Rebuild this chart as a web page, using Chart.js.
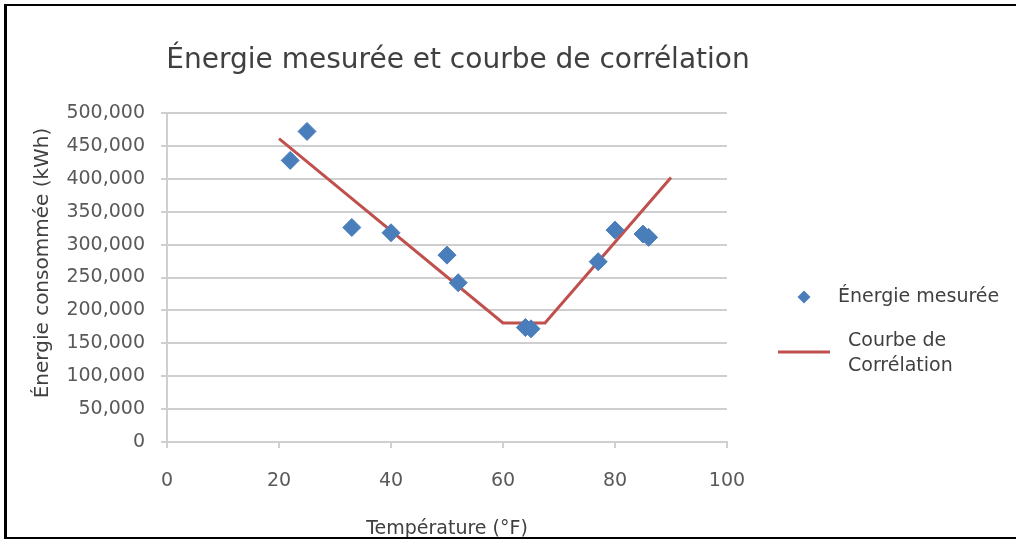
<!DOCTYPE html>
<html>
<head>
<meta charset="utf-8">
<script src="https://cdn.jsdelivr.net/npm/chart.js@4/dist/chart.umd.min.js"></script>
<style>
  html, body { margin: 0; padding: 0; background: #fff; overflow: hidden; }
  #c { display: block; }
</style>
</head>
<body>
<canvas id="c" width="1016" height="540"></canvas>
<script>
// ---- data ----
const chartTitle = 'Énergie mesurée et courbe de corrélation';
const xAxisTitle = 'Température (°F)';
const yAxisTitle = 'Énergie consommée (kWh)';
const measuredName = 'Énergie mesurée';
const curveName = ['Courbe de', 'Corrélation'];

const xTickValues = [0, 20, 40, 60, 80, 100];
const yTickValues = [0, 50000, 100000, 150000, 200000, 250000, 300000, 350000, 400000, 450000, 500000];

const measuredTemp   = [22, 25, 33, 40, 50, 52, 64, 65, 77, 80, 85, 86];
const measuredEnergy = [428000, 472000, 326000, 318000, 284000, 242000, 174000, 172000, 274000, 322000, 316000, 311000];

const curveTemp   = [20, 60, 67.5, 90];
const curveEnergy = [461000, 181000, 181000, 402000];

// ---- styles ----
const FONT = '"DejaVu Sans", Verdana, sans-serif';
const BLUE = '#4a7ebb';
const RED = '#c0504d';
const GRID = '#cfcfcf';
const TICK_COLOR = '#595959';
const TEXT_COLOR = '#404040';

Chart.defaults.font.family = FONT;

const measuredPts = measuredTemp.map((t, i) => ({ x: t, y: measuredEnergy[i] }));
const curvePts = curveTemp.map((t, i) => ({ x: t, y: curveEnergy[i] }));

const extraText = {
  id: 'extraText',
  beforeDraw(chart) {
    const ctx = chart.ctx;
    ctx.save();
    ctx.fillStyle = '#ffffff';
    ctx.fillRect(0, 0, chart.width, chart.height);
    ctx.restore();
  },
  afterDraw(chart) {
    const ctx = chart.ctx;
    ctx.save();
    // title
    ctx.fillStyle = TEXT_COLOR;
    ctx.font = '28px ' + FONT;
    ctx.textAlign = 'center';
    ctx.textBaseline = 'middle';
    ctx.fillText(chartTitle, 458, 61);
    // y axis title
    ctx.save();
    ctx.translate(43, 263);
    ctx.rotate(-Math.PI / 2);
    ctx.font = '20px ' + FONT;
    ctx.fillText(yAxisTitle, 0, 0);
    ctx.restore();
    // legend
    ctx.font = '19px ' + FONT;
    ctx.textAlign = 'left';
    ctx.textBaseline = 'middle';
    ctx.fillStyle = BLUE;
    ctx.beginPath();
    ctx.moveTo(804, 290.5); ctx.lineTo(810.5, 297); ctx.lineTo(804, 303.5); ctx.lineTo(797.5, 297);
    ctx.closePath(); ctx.fill();
    ctx.fillStyle = TEXT_COLOR;
    ctx.fillText(measuredName, 838, 297);
    ctx.strokeStyle = RED;
    ctx.lineWidth = 3;
    ctx.beginPath();
    ctx.moveTo(778, 352); ctx.lineTo(830, 352);
    ctx.stroke();
    ctx.fillText(curveName[0], 848, 341);
    ctx.fillText(curveName[1], 848, 366);
    // outer frame (left, top, bottom only)
    ctx.fillStyle = '#000000';
    ctx.fillRect(4, 4, 3, 535);
    ctx.fillRect(4, 4, 1012, 2);
    ctx.fillRect(4, 537, 1012, 2);
    ctx.restore();
  }
};

new Chart(document.getElementById('c'), {
  type: 'scatter',
  data: {
    datasets: [
      {
        label: measuredName,
        data: measuredPts,
        pointStyle: 'rectRot',
        pointRadius: 9,
        pointHoverRadius: 9,
        backgroundColor: BLUE,
        borderColor: BLUE,
        borderWidth: 1,
        showLine: false
      },
      {
        type: 'line',
        label: curveName.join(' '),
        data: curvePts,
        borderColor: RED,
        borderWidth: 3,
        pointRadius: 0,
        fill: false,
        tension: 0
      }
    ]
  },
  options: {
    responsive: false,
    animation: false,
    devicePixelRatio: 1,
    layout: { padding: { top: 113, right: 289, bottom: 0, left: 0 } },
    plugins: {
      legend: { display: false },
      title: { display: false },
      tooltip: { enabled: false }
    },
    scales: {
      x: {
        type: 'linear',
        position: 'bottom',
        min: 0, max: 100,
        afterBuildTicks: s => { s.ticks = xTickValues.map(v => ({ value: v })); },
        afterFit: s => { s.height = 98; },
        ticks: { color: TICK_COLOR, font: { size: 19 }, padding: 22 },
        grid: { drawOnChartArea: false, drawTicks: true, tickLength: 6, color: GRID, lineWidth: 2 },
        border: { display: true, color: GRID, width: 2 },
        title: { display: true, text: xAxisTitle, color: TEXT_COLOR, font: { size: 19 }, padding: { top: 0, bottom: 0 } }
      },
      y: {
        min: 0, max: 500000,
        afterBuildTicks: s => { s.ticks = yTickValues.map(v => ({ value: v })); },
        afterFit: s => { s.width = 167; },
        ticks: { color: TICK_COLOR, font: { size: 19 }, padding: 16,
                 callback: v => v.toLocaleString('en-US') },
        grid: { color: GRID, lineWidth: 2, tickLength: 6 },
        border: { display: true, color: GRID, width: 2 }
      }
    }
  },
  plugins: [extraText]
});
</script>
</body>
</html>
